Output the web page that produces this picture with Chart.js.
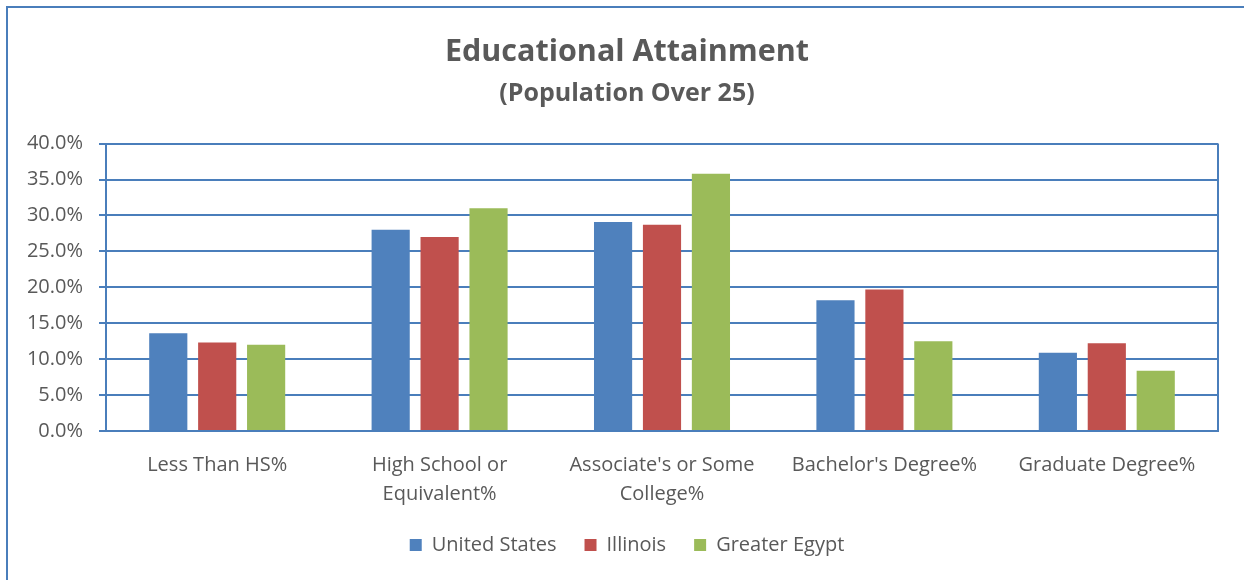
<!DOCTYPE html>
<html>
<head>
<meta charset="utf-8">
<script src="https://cdn.jsdelivr.net/npm/chart.js@4.4.1/dist/chart.umd.min.js"></script>
<style>
    body { margin: 0; background: #fff; overflow: hidden; }
    #wrap { position: relative; width: 1244px; height: 580px; }
    #frame { position: absolute; left: 6px; top: 6px; width: 1300px; height: 700px; border: 2px solid #4A7EBB; pointer-events: none; }
</style>
</head>
<body>
<div id="wrap">
    <canvas id="eduChart"></canvas>
    <div id="frame"></div>
</div>
<script>
// Chart data
const categories = [
    'Less Than HS%',
    ['High School or', 'Equivalent%'],
    ["Associate's or Some", 'College%'],
    "Bachelor's Degree%",
    'Graduate Degree%'
];
const unitedStates = [13.6, 28.0, 29.1, 18.2, 10.9];
const illinois = [12.3, 27.0, 28.7, 19.7, 12.2];
const greaterEgypt = [12.0, 31.0, 35.8, 12.5, 8.4];
const yTicks = [0, 5, 10, 15, 20, 25, 30, 35, 40];

const colors = {
    us: '#4F81BD',
    il: '#C0504D',
    ge: '#9BBB59',
    grid: '#4A7EBB',
    text: '#595959'
};

const fontFamily = "'Open Sans', sans-serif";

// right edge of the plot area
const plotBorder = {
    id: 'plotBorder',
    afterDraw(chart) {
        const { ctx, chartArea } = chart;
        ctx.save();
        ctx.strokeStyle = colors.grid;
        ctx.lineWidth = 2;
        ctx.beginPath();
        ctx.moveTo(chartArea.right, chartArea.top);
        ctx.lineTo(chartArea.right, chartArea.bottom);
        ctx.stroke();
        ctx.restore();
    }
};

const barStyle = {
    categoryPercentage: 0.66,
    barPercentage: 0.78
};

new Chart(document.getElementById('eduChart'), {
    type: 'bar',
    data: {
        labels: categories,
        datasets: [
            { label: 'United States', data: unitedStates, backgroundColor: colors.us, ...barStyle },
            { label: 'Illinois', data: illinois, backgroundColor: colors.il, ...barStyle },
            { label: 'Greater Egypt', data: greaterEgypt, backgroundColor: colors.ge, ...barStyle }
        ]
    },
    options: {
        responsive: true,
        maintainAspectRatio: false,
        animation: false,
        layout: {
            padding: { left: 10, right: 0, top: 0, bottom: 15 }
        },
        scales: {
            y: {
                min: 0,
                max: 40,
                afterFit: s => { s.width = 96; },
                afterBuildTicks: s => { s.ticks = yTicks.map(v => ({ value: v })); },
                ticks: {
                    color: colors.text,
                    padding: 16,
                    font: { family: fontFamily, size: 20 },
                    callback: v => v.toFixed(1) + '%'
                },
                grid: {
                    color: colors.grid,
                    lineWidth: 2,
                    tickLength: 7
                },
                border: { color: colors.grid, width: 2 }
            },
            // empty spacer on the right so the title and legend stay centred on the page
            spacer: {
                type: 'linear',
                position: 'right',
                afterFit: s => { s.width = 26; },
                ticks: { display: false },
                grid: { display: false },
                border: { display: false }
            },
            x: {
                afterFit: s => { s.height = 76; },
                ticks: {
                    color: colors.text,
                    padding: 12,
                    maxRotation: 0,
                    font: { family: fontFamily, size: 20, lineHeight: 1.45 }
                },
                grid: { display: false },
                border: { color: colors.grid, width: 2 }
            }
        },
        plugins: {
            title: {
                display: true,
                text: 'Educational Attainment',
                color: colors.text,
                font: { family: fontFamily, size: 30.5, weight: 'bold', lineHeight: 1.2 },
                padding: { top: 34, bottom: 8 }
            },
            subtitle: {
                display: true,
                text: '(Population Over 25)',
                color: colors.text,
                font: { family: fontFamily, size: 25, weight: 'bold', lineHeight: 1.2 },
                padding: { top: 0, bottom: 35 }
            },
            legend: {
                position: 'bottom',
                labels: {
                    color: colors.text,
                    boxWidth: 12,
                    boxHeight: 12,
                    padding: 28,
                    font: { family: fontFamily, size: 20 }
                }
            },
            tooltip: { enabled: false }
        }
    },
    plugins: [plotBorder]
});
</script>
</body>
</html>
